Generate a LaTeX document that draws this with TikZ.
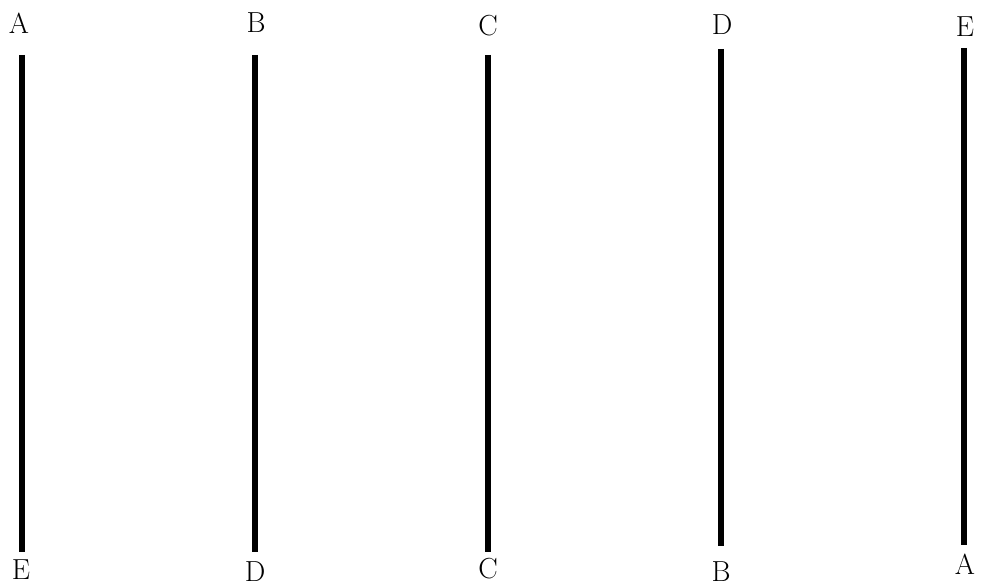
\documentclass[tikz,border=0pt]{standalone}
\begin{document}
\begin{tikzpicture}[x=1pt,y=-1pt,
  lbl/.style={font=\fontsize{29}{34}\selectfont, inner sep=0pt, anchor=center},
  bar/.style={line width=5.5pt}]
\useasboundingbox (0,0) rectangle (981,585);
% top labels
\node[lbl] (tA) at (19,23) {A};
\node[lbl] (tB) at (256,23) {B};
\node[lbl] (tC) at (488,26) {C};
\node[lbl] (tD) at (722,25) {D};
\node[lbl] (tE) at (965,27) {E};
% bottom labels
\node[lbl] (bE) at (21,570) {E};
\node[lbl] (bD) at (255,572) {D};
\node[lbl] (bC) at (488,569) {C};
\node[lbl] (bB) at (721,572) {B};
\node[lbl] (bA) at (965,564) {A};
% line ends
\coordinate (a1) at (22,55);  \coordinate (a2) at (22,552);
\coordinate (b1) at (255,55); \coordinate (b2) at (255,552);
\coordinate (c1) at (488,55); \coordinate (c2) at (488,552);
\coordinate (d1) at (721,49); \coordinate (d2) at (721,546);
\coordinate (e1) at (964,48); \coordinate (e2) at (964,545);
\draw[bar] (a1) -- (a2);
\draw[bar] (b1) -- (b2);
\draw[bar] (c1) -- (c2);
\draw[bar] (d1) -- (d2);
\draw[bar] (e1) -- (e2);
\end{tikzpicture}
\end{document}
